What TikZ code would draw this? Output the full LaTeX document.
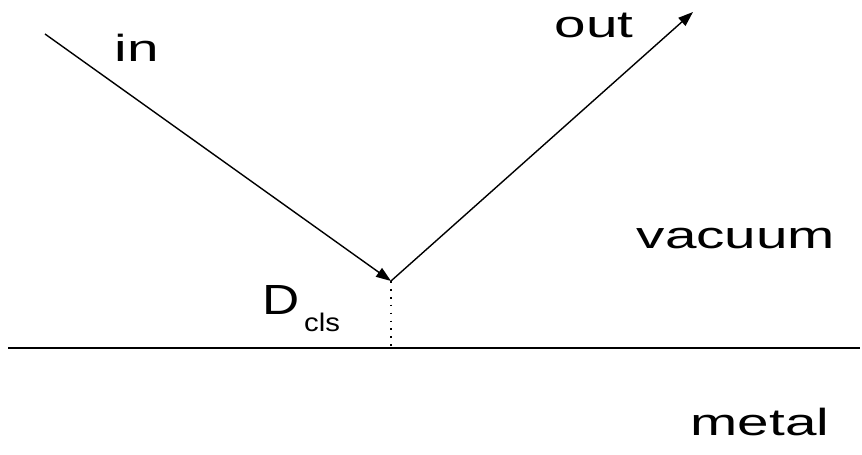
\documentclass[tikz,border=0pt]{standalone}
\usepackage{fontspec}
\newfontfamily\figfont[FakeStretch=1.5]{Liberation Sans}
\newfontfamily\dfont[FakeStretch=1.22]{Liberation Sans}
\newfontfamily\subfont[FakeStretch=1.15]{Liberation Sans}
\usetikzlibrary{arrows.meta,positioning}

\begin{document}
\begin{tikzpicture}[x=0.02cm, y=-0.02cm, line width=0.8pt, >={Triangle[length=8.5pt,width=6pt]},
  lbl/.style={anchor=base west, inner sep=0pt, font=\figfont\fontsize{21.5}{25}\selectfont}]
\useasboundingbox (0,0) rectangle (862,455);
\coordinate (S) at (45,34); \coordinate (P) at (391,281); \coordinate (E) at (693,12);
\coordinate (Q) at (391,348); \coordinate (L) at (8,348); \coordinate (R) at (860,348);
\draw[->] (S) -- (P); \draw[->] (P) -- (E);
\draw[line width=1pt, dash pattern=on 1pt off 3.5pt] (P) -- (Q);
\draw (L) -- (R);
\node[lbl] (in) at (114,62) {in};
\node[lbl] (out) at (554,38) {out};
\node[lbl] (vac) at (636,249) {vacuum};
\node[lbl] (met) at (690,436) {metal};
\node[anchor=base west, inner sep=0pt] (dcls) at (262,315) {{\dfont\fontsize{24}{28}\selectfont D}\hspace{2.5pt}\raisebox{-9.6pt}{\subfont\fontsize{14.5}{17}\selectfont cls}};
\end{tikzpicture}
\end{document}
